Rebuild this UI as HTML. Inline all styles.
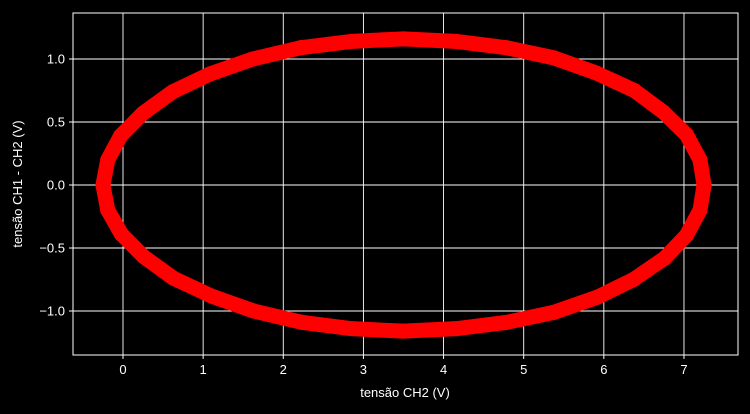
<!DOCTYPE html>
<html><head><meta charset="utf-8"><style>
html,body{margin:0;padding:0;background:#000;}
text{font-family:"Liberation Sans",sans-serif;fill:#fff;}
</style></head><body>
<svg id="chart" width="750" height="409" xmlns="http://www.w3.org/2000/svg">
<rect width="750" height="409" fill="#000"/>
<g id="grid"></g>
<g id="band"></g>
<g id="pts"></g>
<rect x="73" y="13" width="665" height="342" fill="none" stroke="#fff" stroke-width="1"/>
<g id="ticks"></g>
<text x="405" y="397" font-size="13" text-anchor="middle">tensão CH2 (V)</text>
<text transform="translate(22,184) rotate(-90)" font-size="13" text-anchor="middle">tensão CH1 - CH2 (V)</text>
</svg>
<script>
const xTicks=[0,1,2,3,4,5,6,7];
const yTicks=[-1.0,-0.5,0.0,0.5,1.0];
const yTickLabels=["−1.0","−0.5","0.0","0.5","1.0"];
const xVals=[7.25,7.20,7.03,6.74,6.38,5.90,5.37,4.78,4.15,3.50,2.86,2.22,1.62,1.08,0.62,0.25,-0.03,-0.19,-0.25,-0.19,-0.02,0.26,0.63,1.10,1.63,2.23,2.85,3.50,4.16,4.79,5.38,5.92,6.37,6.76,7.03,7.20];
const yVals=[0.00,0.20,0.40,0.58,0.75,0.89,1.01,1.09,1.14,1.16,1.14,1.09,1.00,0.88,0.74,0.57,0.39,0.20,0.00,-0.20,-0.39,-0.57,-0.74,-0.88,-1.00,-1.09,-1.14,-1.16,-1.14,-1.09,-1.01,-0.89,-0.75,-0.58,-0.40,-0.20];
const ns="http://www.w3.org/2000/svg";
const X=v=>123+v*80.14, Y=v=>185-v*126;
const g=document.getElementById('grid'),t=document.getElementById('ticks');
function mk(tag,a,p){const e=document.createElementNS(ns,tag);for(const k in a)e.setAttribute(k,a[k]);p.appendChild(e);return e;}
xTicks.forEach(v=>{
 const l=mk('line',{x1:X(v),x2:X(v),y1:13,y2:355,stroke:'#fff','stroke-width':0.9},g);
 
 
 mk('line',{x1:X(v),x2:X(v),y1:355,y2:359,stroke:'#fff'},t);
 const tx=mk('text',{x:X(v),y:374,'font-size':13,'text-anchor':'middle'},t);tx.textContent=v;
 
 
});
yTicks.forEach((v,i)=>{
 const l=mk('line',{x1:73,x2:738,y1:Y(v),y2:Y(v),stroke:'#fff','stroke-width':0.9},g);
 
 
 mk('line',{x1:69,x2:73,y1:Y(v),y2:Y(v),stroke:'#fff'},t);
 const tx=mk('text',{x:65,y:Y(v)+4.5,'font-size':13,'text-anchor':'end'},t);tx.textContent=yTickLabels[i];
 
 
});
let d='';xVals.forEach((v,i)=>{d+=(i?'L':'M')+X(v)+','+Y(yVals[i]);});d+='Z';
const band=mk('path',{d:d,fill:'none',stroke:'#ff0000','stroke-width':15,'stroke-linejoin':'round'},document.getElementById('band'));


const P=document.getElementById('pts');
xVals.forEach((v,i)=>{
 const c=mk('circle',{cx:X(v),cy:Y(yVals[i]),r:7.5,fill:'#ff0000'},P);
 
 
});
</script>
</body></html>
